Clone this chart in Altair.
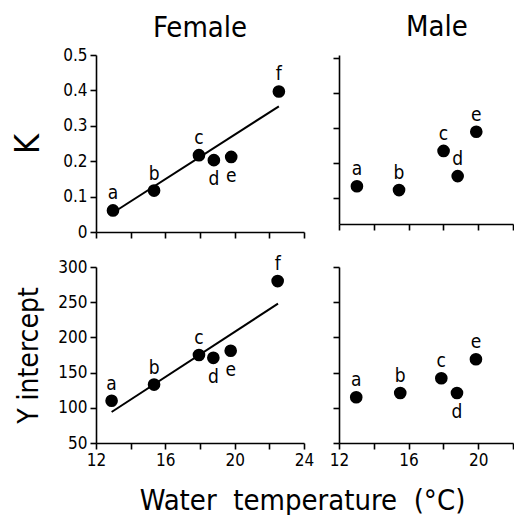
import altair as alt
import pandas as pd

FONT = "Liberation Sans Narrow, DejaVu Sans Condensed, Roboto Condensed, Liberation Sans, sans-serif"

# ---- data ----
fem_letters = ["a", "b", "c", "d", "e", "f"]
fem_pos_k = ["above", "above", "above", "below", "below", "above"]
fem_pos_y = ["above", "above", "above", "below", "below", "above"]
fem_temp_k = [12.98, 15.35, 17.94, 18.80, 19.80, 22.55]
fem_k = [0.061, 0.117, 0.217, 0.203, 0.212, 0.397]
fem_temp_y = [12.90, 15.35, 17.94, 18.77, 19.77, 22.48]
fem_yint = [110, 133, 175, 171, 181, 280]

male_letters = ["a", "b", "c", "d", "e"]
male_pos_k = ["above", "above", "above", "above", "above"]
male_pos_y = ["above", "above", "above", "below", "above"]
male_temp_k = [13.03, 15.45, 18.01, 18.82, 19.89]
male_k = [0.133, 0.122, 0.234, 0.162, 0.289]
male_temp_y = [12.99, 15.52, 17.88, 18.78, 19.87]
male_yint = [115, 121, 142, 121, 169]

fit_k_temp = [13.0, 22.55]
fit_k = [0.055, 0.355]
fit_y_temp = [12.9, 22.5]
fit_yint = [94, 248]

fem_x_ticks = [12, 14, 16, 18, 20, 22, 24]
male_x_ticks = [12, 14, 16, 18, 20, 22]
k_ticks = [0, 0.1, 0.2, 0.3, 0.4, 0.5]
male_k_ticks = [0.1, 0.2, 0.3, 0.4, 0.5]
yint_ticks = [50, 100, 150, 200, 250, 300]

NO_LABELS = "''"


def frame(temp, val, letters, pos):
    return pd.DataFrame({"temp": temp, "val": val, "lab": letters, "pos": pos})


def panel(df, xdom, xaxis, ydom, yaxis, width, height, fit=None, title=None):
    x = alt.X("temp:Q", scale=alt.Scale(domain=xdom, nice=False, zero=False), axis=xaxis)
    y = alt.Y("val:Q", scale=alt.Scale(domain=ydom, nice=False, zero=False), axis=yaxis)
    base = alt.Chart(df)
    pts = base.mark_circle(size=160, color="black", opacity=1)
    above = base.transform_filter(alt.datum.pos == "above").mark_text(
        dy=-17, fontSize=19, font=FONT, color="black", baseline="middle"
    ).encode(text="lab:N")
    below = base.transform_filter(alt.datum.pos == "below").mark_text(
        dy=19, fontSize=19, font=FONT, color="black", baseline="middle"
    ).encode(text="lab:N")
    layers = [pts, above, below]
    if fit is not None:
        ln = alt.Chart(pd.DataFrame({"temp": fit[0], "val": fit[1]})).mark_line(
            color="black", strokeWidth=2
        )
        layers.insert(0, ln)
    ch = alt.layer(*layers).encode(x=x, y=y).properties(width=width, height=height)
    if title is not None:
        ch = ch.properties(title=title)
    return ch


common = dict(grid=False, domainColor="black", domainWidth=1.6, tickColor="black",
              tickWidth=1.6, tickSize=6, ticks=True, labelFont=FONT, labelColor="black",
              labelPadding=3, labelFlush=False, labelOverlap=False)

ft = panel(
    frame(fem_temp_k, fem_k, fem_letters, fem_pos_k),
    [12, 24],
    alt.Axis(values=fem_x_ticks, labelExpr=NO_LABELS, title=None, **common),
    [0, 0.5],
    alt.Axis(values=k_ticks, format=".1~f", labelFontSize=17,
             title="K", titleFont=FONT, titleFontSize=34, titleFontWeight="normal",
             titleColor="black", titlePadding=17, **common),
    208, 177, fit=(fit_k_temp, fit_k),
    title=alt.TitleParams("Female", font=FONT, fontSize=29, fontWeight="normal",
                          color="black", offset=3, anchor="middle", frame="group"),
)

mt = panel(
    frame(male_temp_k, male_k, male_letters, male_pos_k),
    [12, 22],
    alt.Axis(values=male_x_ticks, labelExpr=NO_LABELS, title=None, **common),
    [0.025, 0.5085],
    alt.Axis(values=male_k_ticks, labelExpr=NO_LABELS, title=None, **common),
    174, 169,
    title=alt.TitleParams("Male", font=FONT, fontSize=29, fontWeight="normal",
                          color="black", offset=11, anchor="middle", frame="group", dx=11),
)

fb = panel(
    frame(fem_temp_y, fem_yint, fem_letters, fem_pos_y),
    [12, 24],
    alt.Axis(values=fem_x_ticks, labelExpr="datum.value % 4 == 0 ? datum.label : ''",
             labelFontSize=17, title="Water\u00a0 temperature\u00a0 (°C)",
             titleFont=FONT, titleFontSize=29, titleFontWeight="normal", titleColor="black",
             titleX=206, titleY=66, titleAlign="center", titleBaseline="alphabetic",
             **common),
    [50, 300],
    alt.Axis(values=yint_ticks, labelFontSize=17, title="Y intercept",
             titleFont=FONT, titleFontSize=28, titleFontWeight="normal",
             titleColor="black", titlePadding=14, **common),
    208, 176, fit=(fit_y_temp, fit_yint),
)

mb = panel(
    frame(male_temp_y, male_yint, male_letters, male_pos_y),
    [12, 22],
    alt.Axis(values=male_x_ticks, labelExpr="datum.value % 4 == 0 ? datum.label : ''",
             labelFontSize=17, title=None, **common),
    [50, 300],
    alt.Axis(values=yint_ticks, labelExpr=NO_LABELS, title=None, **common),
    174, 176,
)

chart = alt.concat(ft, mt, fb, mb, columns=2, spacing=35, bounds="flush").properties(
    padding={"left": 11, "top": 12, "right": 0, "bottom": 0},
    background="white",
).configure_view(stroke=None)

chart.save("out.html", embed_options={"renderer": "svg", "actions": False})
